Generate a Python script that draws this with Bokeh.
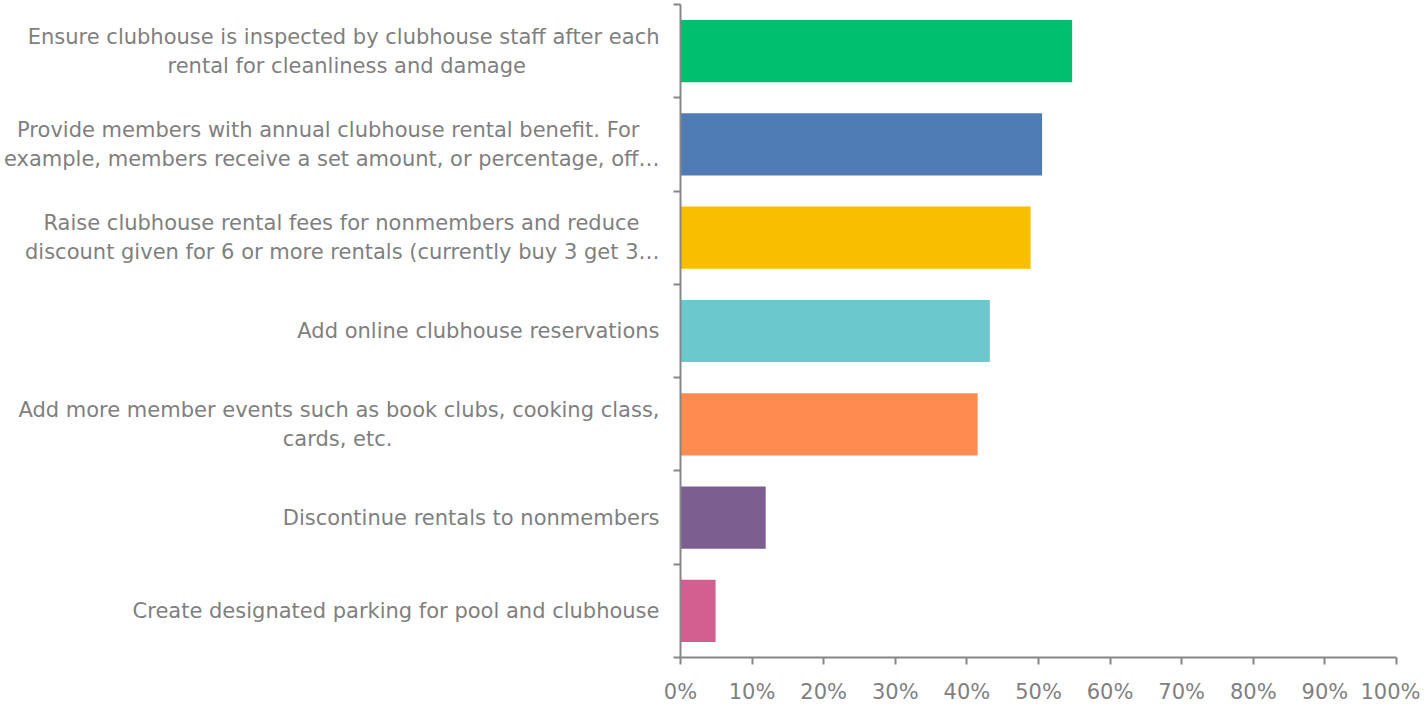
from bokeh.plotting import figure
from bokeh.models import FixedTicker, PrintfTickFormatter, Range1d
from bokeh.embed import file_html
from bokeh.resources import INLINE

categories = [
    "Ensure clubhouse is inspected by clubhouse staff after each\nrental for cleanliness and damage",
    "Provide members with annual clubhouse rental benefit.  For\nexample, members receive a set amount, or percentage, off\u2026",
    "Raise clubhouse rental fees for nonmembers and reduce\ndiscount given for 6 or more rentals (currently buy 3 get 3\u2026",
    "Add online clubhouse reservations",
    "Add more member events such as book clubs, cooking class,\ncards, etc.",
    "Discontinue rentals to nonmembers",
    "Create designated parking for pool and clubhouse",
]
values = [54.7, 50.5, 48.9, 43.2, 41.5, 11.9, 4.9]
colors = ["#00BF6F", "#507CB6", "#F9BE00", "#6BC8CD", "#FF8B4F", "#7D5E90", "#D25F90"]
x_ticks = [0, 10, 20, 30, 40, 50, 60, 70, 80, 90, 100]

n = len(categories)
centers = [n - i - 0.5 for i in range(n)]
boundaries = list(range(n + 1))

FONT = "DejaVu Sans"
FONT_PX = 21
GRAY_TXT = "#7F7F7F"
GRAY_LN = "#868686"


def centre_lines(label):
    """Pad shorter lines with trailing no-break spaces so the lines of a
    right-anchored multi-line label appear centred on each other."""
    lines = label.split("\n")
    if len(lines) < 2:
        return label
    try:
        from PIL import ImageFont
        font = ImageFont.truetype("DejaVuSans.ttf", FONT_PX)
        widths = [font.getlength(s) for s in lines]
        sp = font.getlength("\u00a0")
    except Exception:
        return label
    wmax = max(widths)
    out = []
    for s, w in zip(lines, widths):
        k = int(round((wmax - w) / 2 / sp))
        out.append(s + "\u00a0" * k)
    return "\n".join(out)


p = figure(width=1420, height=706, output_backend="svg", toolbar_location=None,
           x_range=Range1d(0, 100), y_range=Range1d(0, n),
           min_border_left=680, min_border_right=24, min_border_top=4,
           min_border_bottom=30)
p.outline_line_color = None
p.grid.grid_line_color = None

p.hbar(y=centers, right=values, left=0, height=0.667, color=colors, line_color=None)

xa = p.xaxis[0]
xa.ticker = FixedTicker(ticks=x_ticks, minor_ticks=[])
xa.formatter = PrintfTickFormatter(format="%d%%")
xa.axis_line_color = GRAY_LN
xa.axis_line_width = 2
xa.major_tick_line_color = GRAY_LN
xa.major_tick_line_width = 2
xa.major_tick_out = 7
xa.major_tick_in = 0
xa.major_label_standoff = 15
xa.major_label_text_font = FONT
xa.major_label_text_font_size = f"{FONT_PX}px"
xa.major_label_text_color = GRAY_TXT

ya = p.yaxis[0]
ya.ticker = FixedTicker(ticks=centers, minor_ticks=boundaries)
ya.major_label_overrides = {c: centre_lines(lab) for c, lab in zip(centers, categories)}
ya.axis_line_color = GRAY_LN
ya.axis_line_width = 2
ya.major_tick_line_color = None
ya.major_tick_out = 0
ya.major_tick_in = 0
ya.minor_tick_line_color = GRAY_LN
ya.minor_tick_line_width = 2
ya.minor_tick_out = 7
ya.minor_tick_in = 0
ya.major_label_standoff = 14
ya.major_label_text_font = FONT
ya.major_label_text_font_size = f"{FONT_PX}px"
ya.major_label_text_color = GRAY_TXT

open("out.html", "w").write(file_html(p, INLINE))
